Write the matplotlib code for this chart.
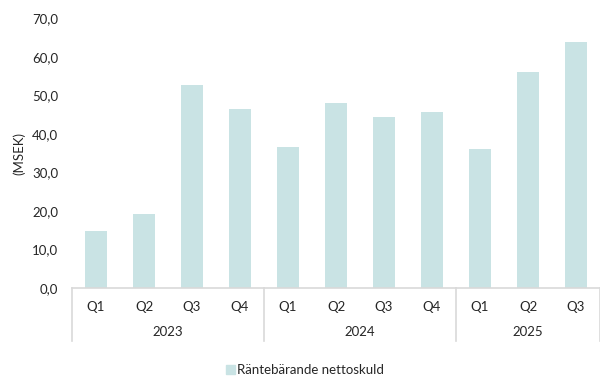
import matplotlib.pyplot as plt
from matplotlib.patches import Patch
from matplotlib.ticker import FuncFormatter

plt.rcParams['font.family'] = ['Lato', 'DejaVu Sans']

# Data
quarters = ['Q1', 'Q2', 'Q3', 'Q4', 'Q1', 'Q2', 'Q3', 'Q4', 'Q1', 'Q2', 'Q3']
years = ['2023', '2024', '2025']
year_counts = [4, 4, 3]
net_debt = [14.9, 19.3, 52.8, 46.5, 36.7, 48.1, 44.3, 45.8, 36.2, 56.1, 64.0]

BAR_COLOR = '#c9e3e4'
LINE_COLOR = '#d9d9d9'
TEXT_COLOR = '#262626'
FS = 9.5

fig = plt.figure(figsize=(6.0, 3.77), dpi=100)
ax = fig.add_axes([0.12, 0.236, 0.88, 0.715])

x = list(range(len(quarters)))
ax.bar(x, net_debt, width=0.44, color=BAR_COLOR, zorder=2)

ax.set_xlim(-0.5, len(quarters) - 0.5)
ax.set_ylim(0, 70)
ax.set_yticks(range(0, 71, 10))
ax.yaxis.set_major_formatter(FuncFormatter(lambda v, p: f"{v:.1f}".replace('.', ',')))
ax.tick_params(axis='y', length=0, labelsize=FS, colors=TEXT_COLOR, pad=10)
ax.set_ylabel('(MSEK)', fontsize=FS, color=TEXT_COLOR, labelpad=5)

for s in ['top', 'right', 'left']:
    ax.spines[s].set_visible(False)
ax.spines['bottom'].set_color(LINE_COLOR)
ax.spines['bottom'].set_linewidth(1.2)

# quarter labels
ax.set_xticks(x)
ax.set_xticklabels(quarters)
ax.tick_params(axis='x', length=0, labelsize=FS, colors=TEXT_COLOR, pad=9)

# year group labels and separators
trans = ax.get_xaxis_transform()
start = -0.5
ax.plot([start, start], [0, -0.195], transform=trans, color=LINE_COLOR, lw=1.2, clip_on=False)
for yr, n in zip(years, year_counts):
    end = start + n
    ax.text((start + end) / 2, -0.163, yr, transform=trans, ha='center', va='center',
            fontsize=FS, color=TEXT_COLOR)
    ax.plot([end, end], [0, -0.195], transform=trans, color=LINE_COLOR, lw=1.2, clip_on=False)
    start = end

fig.legend(handles=[Patch(color=BAR_COLOR, label='Räntebärande nettoskuld')],
           loc='center', bbox_to_anchor=(0.508, 0.018), frameon=False, fontsize=FS,
           handlelength=0.7, handleheight=0.7, handletextpad=0.1, labelcolor=TEXT_COLOR)

fig.savefig('out.png', dpi=100)
